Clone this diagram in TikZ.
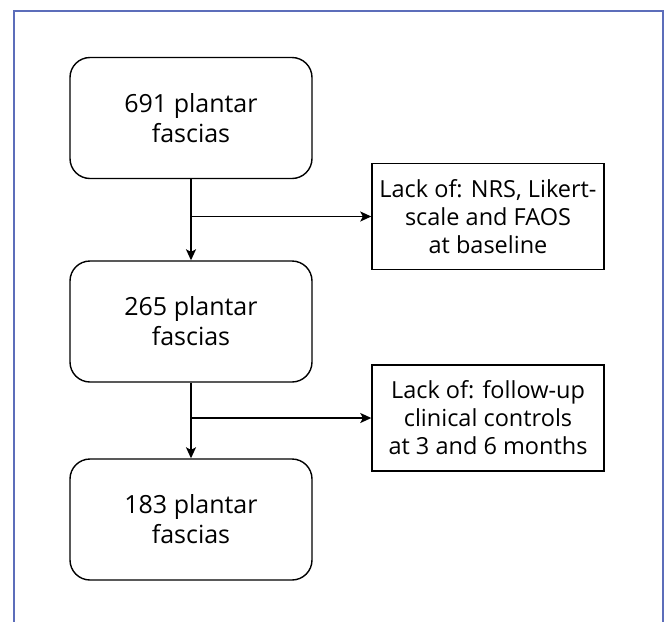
\documentclass[tikz,border=0pt]{standalone}
\usepackage{fontspec}
\setmainfont{Open Sans}
\usetikzlibrary{arrows.meta}
\definecolor{frameblue}{RGB}{92,109,186}
\tikzset{
  mainbox/.style={draw, line width=1.4pt, rounded corners=20pt, minimum width=242pt, minimum height=121pt, align=center, font=\fontsize{25}{30}\selectfont},
  sidebox/.style={draw, line width=1.4pt, minimum width=232pt, minimum height=106pt, align=center, font=\fontsize{23.5}{28}\selectfont},
  flow/.style={line width=1.4pt, -{Stealth[length=11pt,width=10pt,inset=2.5pt]}}
}
\begin{document}
\begin{tikzpicture}[x=1pt,y=-1pt]
			\useasboundingbox (0,0) rectangle (665,622);
			\draw[frameblue, line width=2.5pt] (14,622) -- (14,11) -- (663,11) -- (663,622); % open frame
			\node[mainbox] (n691) at (191,118) {691 plantar\\fascias}; % start
			\node[mainbox] (n265) at (191,321.5) {265 plantar\\fascias}; % after first exclusion
			\node[mainbox] (n183) at (191,519.5) {183 plantar\\fascias}; % final
			\node[sidebox] (excl1) at (488,216.5) {Lack of: NRS, Likert-\\scale and FAOS\\at baseline}; % first exclusion
			\node[sidebox] (excl2) at (488,418) {Lack of: follow-up\\clinical controls\\at 3 and 6 months}; % second exclusion
			\coordinate (split1) at (n691.south |- excl1.west);
			\coordinate (split2) at (n265.south |- excl2.west);
			\draw[flow] (n691) -- (n265);
			\draw[flow] (n265) -- (n183);
			\draw[flow] (split1) -- (excl1);
			\draw[flow] (split2) -- (excl2);
		\end{tikzpicture}
\end{document}
